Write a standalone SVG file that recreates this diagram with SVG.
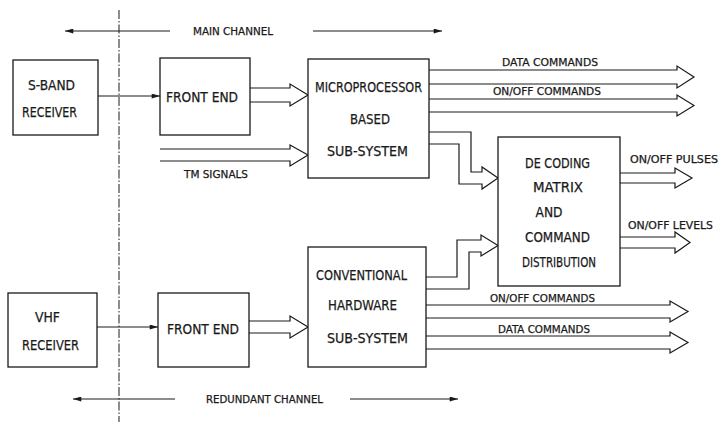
<svg xmlns="http://www.w3.org/2000/svg" width="719" height="422" viewBox="0 0 719 422">
<defs>
<marker id="ah" viewBox="0 0 10 6" refX="10" refY="3" markerWidth="9" markerHeight="5" markerUnits="userSpaceOnUse" orient="auto">
<path d="M0,0 L10,3 L0,6 Z" fill="#1a1a1a"/>
</marker>
</defs>
<style>
rect.box{fill:#fff;stroke:#1a1a1a;stroke-width:1.3}
.fat{fill:none;stroke:#1a1a1a;stroke-width:1.2;stroke-linejoin:miter}
.ln{fill:none;stroke:#1a1a1a;stroke-width:1.1}
.dd{fill:none;stroke:#1a1a1a;stroke-width:1;stroke-dasharray:9 2 1.5 2}
text{font-family:"DejaVu Sans Condensed","Liberation Sans Narrow","Liberation Sans",sans-serif;fill:#1a1a1a;stroke:#1a1a1a;stroke-width:0.25}
.b{font-size:14.5px}
.s{font-size:11px}
</style>
<rect width="719" height="422" fill="#fff"/>
<line class="dd" x1="119" y1="10" x2="119" y2="422"/>

<g id="connectors">
<line class="ln" x1="170" y1="31" x2="65" y2="31" marker-end="url(#ah)"/>
<line class="ln" x1="313" y1="31" x2="442" y2="31" marker-end="url(#ah)"/>
<line class="ln" x1="175" y1="399" x2="73" y2="399" marker-end="url(#ah)"/>
<line class="ln" x1="350" y1="399" x2="458" y2="399" marker-end="url(#ah)"/>
<line class="ln" x1="98" y1="96" x2="160" y2="96" marker-end="url(#ah)"/>
<line class="ln" x1="97" y1="327" x2="158" y2="327" marker-end="url(#ah)"/>
<polyline class="fat" points="250,88 290,88 290,84 308,95 290,106 290,102 250,102"/>
<polyline class="fat" points="160,149 290,149 290,145 308,155 290,166 290,161 160,161"/>
<polyline class="fat" points="249,321 290,321 290,316 308,327 290,338 290,333 249,333"/>
<polyline class="fat" points="429,70 677,70 677,66 694,77 677,88 677,84 429,84"/>
<polyline class="fat" points="429,99 677,99 677,95 694,105.5 677,116 677,112 429,112"/>
<polyline class="fat" points="429,132 471,132 471,172 482,172 482,167 498,178 482,189 482,184 459,184 459,144 429,144"/>
<polyline class="fat" points="426,277 457,277 457,240 481,240 481,235 498,245.5 481,256 481,252 469,252 469,289 426,289"/>
<polyline class="fat" points="620,173 675,173 675,168 692,178 675,188 675,183 620,183"/>
<polyline class="fat" points="620,237 675,237 675,232 690,242.5 675,253 675,248 620,248"/>
<polyline class="fat" points="426,305 670,305 670,301 688,311.5 670,322 670,318 426,318"/>
<polyline class="fat" points="426,336 670,336 670,332 688,342.5 670,353 670,349 426,349"/>
</g>

<g id="labels">
<text class="s" x="233" y="35" text-anchor="middle" textLength="80" lengthAdjust="spacingAndGlyphs">MAIN CHANNEL</text>
<text class="s" x="264.5" y="403" text-anchor="middle" textLength="117" lengthAdjust="spacingAndGlyphs">REDUNDANT CHANNEL</text>
<text class="s" x="550" y="66" text-anchor="middle" textLength="96" lengthAdjust="spacingAndGlyphs">DATA COMMANDS</text>
<text class="s" x="547" y="95" text-anchor="middle" textLength="108" lengthAdjust="spacingAndGlyphs">ON/OFF COMMANDS</text>
<text class="s" x="216" y="178" text-anchor="middle" textLength="64" lengthAdjust="spacingAndGlyphs">TM SIGNALS</text>
<text class="s" x="674" y="163" text-anchor="middle" textLength="88" lengthAdjust="spacingAndGlyphs">ON/OFF PULSES</text>
<text class="s" x="670.5" y="229" text-anchor="middle" textLength="85" lengthAdjust="spacingAndGlyphs">ON/OFF LEVELS</text>
<text class="s" x="542.5" y="302" text-anchor="middle" textLength="105" lengthAdjust="spacingAndGlyphs">ON/OFF COMMANDS</text>
<text class="s" x="544" y="333" text-anchor="middle" textLength="92" lengthAdjust="spacingAndGlyphs">DATA COMMANDS</text>
</g>

<g id="sband">
<rect class="box" x="13" y="60" width="85" height="75"/>
<text class="b" x="51.5" y="90" text-anchor="middle" textLength="47" lengthAdjust="spacingAndGlyphs">S-BAND</text>
<text class="b" x="49.5" y="117" text-anchor="middle" textLength="55" lengthAdjust="spacingAndGlyphs">RECEIVER</text>
</g>
<g id="frontend1">
<rect class="box" x="160" y="58" width="90" height="77"/>
<text class="b" x="202" y="102" text-anchor="middle" textLength="72" lengthAdjust="spacingAndGlyphs">FRONT END</text>
</g>
<g id="micro">
<rect class="box" x="308" y="59" width="121" height="119"/>
<text class="b" x="368.5" y="92" text-anchor="middle" textLength="107" lengthAdjust="spacingAndGlyphs">MICROPROCESSOR</text>
<text class="b" x="370" y="124" text-anchor="middle" textLength="40" lengthAdjust="spacingAndGlyphs">BASED</text>
<text class="b" x="367.5" y="156" text-anchor="middle" textLength="81" lengthAdjust="spacingAndGlyphs">SUB-SYSTEM</text>
</g>
<g id="decoding">
<rect class="box" x="498" y="137" width="122" height="149"/>
<text class="b" x="557.5" y="168" text-anchor="middle" textLength="65" lengthAdjust="spacingAndGlyphs">DE CODING</text>
<text class="b" x="558" y="192" text-anchor="middle" textLength="50" lengthAdjust="spacingAndGlyphs">MATRIX</text>
<text class="b" x="549" y="217" text-anchor="middle" textLength="27" lengthAdjust="spacingAndGlyphs">AND</text>
<text class="b" x="557.5" y="242" text-anchor="middle" textLength="65" lengthAdjust="spacingAndGlyphs">COMMAND</text>
<text class="b" x="559" y="267" text-anchor="middle" textLength="74" lengthAdjust="spacingAndGlyphs">DISTRIBUTION</text>
</g>
<g id="conventional">
<rect class="box" x="308" y="247" width="118" height="120"/>
<text class="b" x="361.5" y="280" text-anchor="middle" textLength="91" lengthAdjust="spacingAndGlyphs">CONVENTIONAL</text>
<text class="b" x="362.5" y="310" text-anchor="middle" textLength="69" lengthAdjust="spacingAndGlyphs">HARDWARE</text>
<text class="b" x="367.5" y="343" text-anchor="middle" textLength="81" lengthAdjust="spacingAndGlyphs">SUB-SYSTEM</text>
</g>
<g id="vhf">
<rect class="box" x="8" y="293" width="89" height="74"/>
<text class="b" x="47.5" y="322" text-anchor="middle" textLength="25" lengthAdjust="spacingAndGlyphs">VHF</text>
<text class="b" x="50.5" y="350" text-anchor="middle" textLength="57" lengthAdjust="spacingAndGlyphs">RECEIVER</text>
</g>
<g id="frontend2">
<rect class="box" x="158" y="293" width="91" height="74"/>
<text class="b" x="203" y="334" text-anchor="middle" textLength="72" lengthAdjust="spacingAndGlyphs">FRONT END</text>
</g>
</svg>
